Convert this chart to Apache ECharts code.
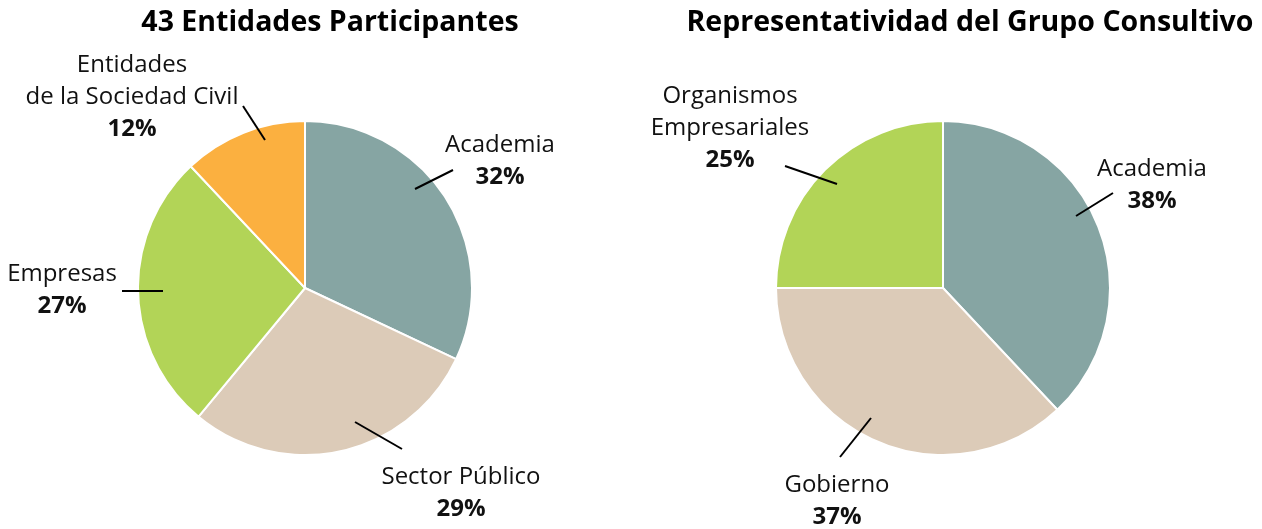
<!DOCTYPE html>
<html>
<head>
<meta charset="utf-8">
<script src="https://cdn.jsdelivr.net/npm/echarts@6/dist/echarts.min.js"></script>
<style>
  html, body { margin: 0; padding: 0; background: #fff; }
  #chart { width: 1262px; height: 529px; }
</style>
</head>
<body>
<div id="chart"></div>
<script>
// datos del primer gráfico
const entidadesNames = ['Academia', 'Sector Público', 'Empresas', 'Entidades\nde la Sociedad Civil']
const entidadesValues = [32, 29, 27, 12]
const entidadesColors = ['#86a5a3', '#dccbb8', '#b2d457', '#fbb040']

// datos del segundo gráfico
const grupoNames = ['Academia', 'Gobierno', 'Organismos\nEmpresariales']
const grupoValues = [38, 37, 25]
const grupoColors = ['#86a5a3', '#dccbb8', '#b2d457']

const titles = ['43 Entidades Participantes', 'Representatividad del Grupo Consultivo']

// posición de las etiquetas (centro del bloque) y de sus líneas
const labelPos = [
  [[500, 161], [461, 493], [62, 290], [132, 97]],
  [[1152, 185], [837, 501], [730, 128]]
]
const linePos = [
  [[[415, 189], [453, 170]], [[355, 422], [402, 449]], [[122, 291], [163, 291]], [[243, 106], [265, 140]]],
  [[[1076, 216], [1113, 193]], [[840, 457], [871, 418]], [[785, 166], [837, 184]]]
]

const FONT = '"Open Sans", "Noto Sans", sans-serif'

function fmt(params) {
  const lines = params.name.split('\n').map(s => '{n|' + s + '}')
  lines.push('{v|' + params.value + '%}')
  return lines.join('\n')
}

// sectores de color
function pieSeries(names, values, colors, center) {
  return {
    type: 'pie',
    center: center,
    radius: 167,
    startAngle: 90,
    animation: false,
    silent: true,
    z: 2,
    data: names.map((n, i) => ({ name: n, value: values[i], itemStyle: { color: colors[i] } })),
    itemStyle: { borderColor: '#fff', borderWidth: 2 },
    label: { show: false },
    labelLine: { show: false }
  }
}

// capa transparente encima, solo para etiquetas y líneas (así las líneas quedan sobre los sectores)
function labelSeries(idx, names, values, center) {
  return {
    type: 'pie',
    center: center,
    radius: 167,
    startAngle: 90,
    animation: false,
    silent: true,
    z: 5,
    data: names.map((n, i) => ({ name: n, value: values[i] })),
    itemStyle: { color: 'rgba(0,0,0,0)', borderWidth: 0 },
    label: {
      show: true,
      position: 'outside',
      alignTo: 'none',
      overflow: 'none',
      formatter: fmt,
      align: 'center',
      rich: {
        n: { fontFamily: FONT, fontSize: 24, color: '#111', lineHeight: 32, align: 'center' },
        v: { fontFamily: FONT, fontSize: 24, fontWeight: 'bold', color: '#111', lineHeight: 32, align: 'center' }
      }
    },
    labelLine: { show: true, length: 20, length2: 0, lineStyle: { color: '#000', width: 2 } },
    labelLayout: function (p) {
      const i = p.dataIndex
      return {
        x: labelPos[idx][i][0],
        y: labelPos[idx][i][1],
        align: 'center',
        verticalAlign: 'middle',
        width: 400,
        labelLinePoints: [linePos[idx][i][0], linePos[idx][i][1], linePos[idx][i][1]]
      }
    }
  }
}

const chart = echarts.init(document.getElementById('chart'), null, { renderer: 'canvas' })
chart.setOption({
  backgroundColor: '#fff',
  title: [
    { text: titles[0], left: 325, top: 3, textAlign: 'center',
      textStyle: { fontFamily: FONT, fontSize: 28.5, fontWeight: 'bold', color: '#000' } },
    { text: titles[1], left: 965, top: 3, textAlign: 'center',
      textStyle: { fontFamily: FONT, fontSize: 28.5, fontWeight: 'bold', color: '#000' } }
  ],
  series: [
    pieSeries(entidadesNames, entidadesValues, entidadesColors, [305, 288]),
    pieSeries(grupoNames, grupoValues, grupoColors, [943, 288]),
    labelSeries(0, entidadesNames, entidadesValues, [305, 288]),
    labelSeries(1, grupoNames, grupoValues, [943, 288])
  ]
})
</script>
</body>
</html>
